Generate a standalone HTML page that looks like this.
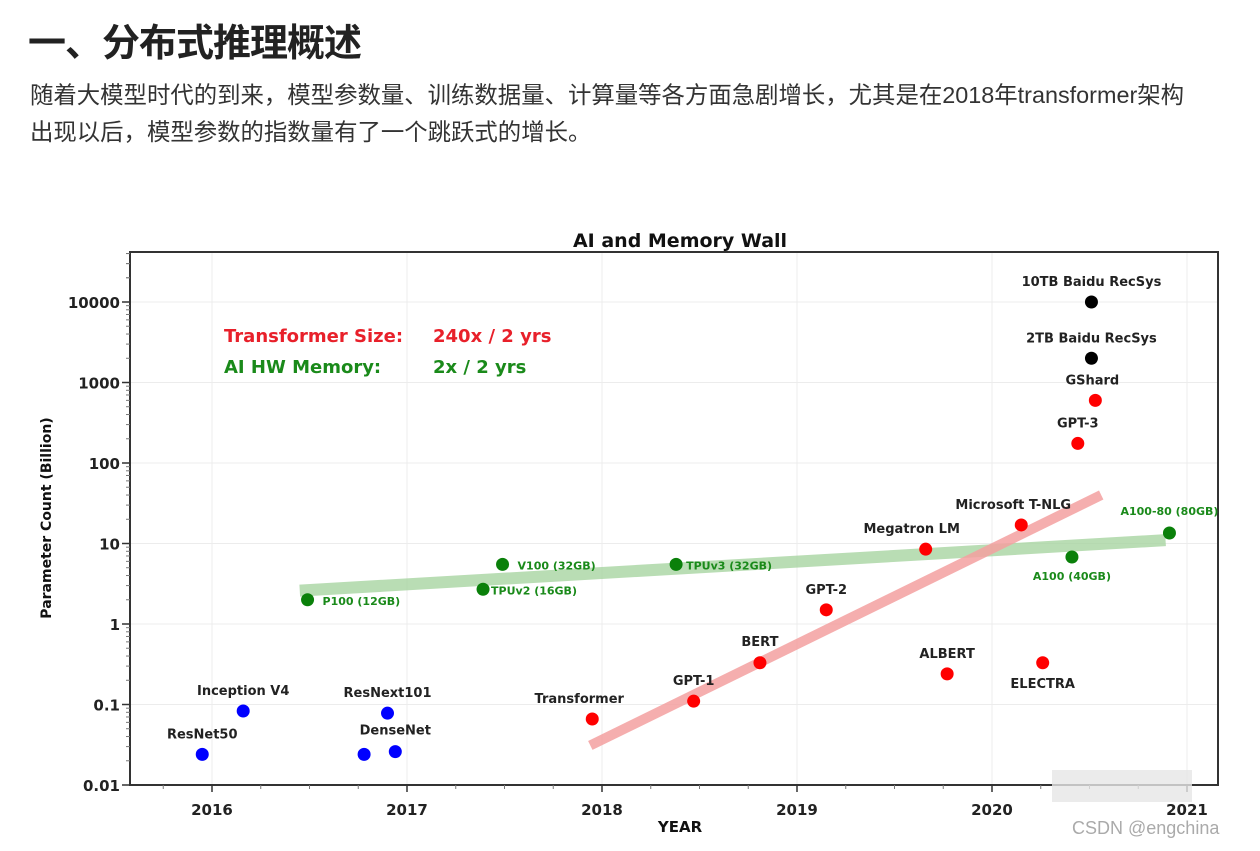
<!DOCTYPE html>
<html><head><meta charset="utf-8">
<style>
body{margin:0;background:#fff;width:1260px;height:851px;overflow:hidden;position:relative;font-family:"Liberation Sans","Noto Sans CJK SC",sans-serif;}
h1{position:absolute;left:28px;top:12px;margin:0;font-size:38px;font-weight:bold;color:#222;font-family:"Liberation Sans","Noto Sans CJK SC",sans-serif;letter-spacing:-1px}
p{position:absolute;left:30px;top:77px;margin:0;font-size:23.4px;line-height:37px;color:#333;width:1230px;white-space:nowrap}
svg{position:absolute;left:0;top:0}
.wm{position:absolute;left:1072px;top:818px;font-size:18px;color:#aaa}
</style></head><body>
<h1>一、分布式推理概述</h1>
<p>随着大模型时代的到来，模型参数量、训练数据量、计算量等各方面急剧增长，尤其是在2018年transformer架构<br>出现以后，模型参数的指数量有了一个跳跃式的增长。</p>
<svg id="chart" width="1260" height="851"></svg>
<div class="wm">CSDN @engchina</div>
<script>
const redNames=["Transformer","GPT-1","BERT","GPT-2","Megatron LM","Microsoft T-NLG","ALBERT","ELECTRA","GPT-3","GShard"];
const redYears=[2017.95,2018.47,2018.81,2019.15,2019.66,2020.15,2019.77,2020.26,2020.44,2020.53];
const redVals=[0.066,0.11,0.33,1.5,8.5,17,0.24,0.33,175,600];
const blueNames=["ResNet50","Inception V4","ResNext101","","DenseNet"];
const blueYears=[2015.95,2016.16,2016.9,2016.78,2016.94];
const blueVals=[0.024,0.083,0.078,0.024,0.026];
const blackNames=["10TB Baidu RecSys","2TB Baidu RecSys"];
const blackYears=[2020.51,2020.51];
const blackVals=[10000,2000];
const greenNames=["P100 (12GB)","TPUv2 (16GB)","V100 (32GB)","TPUv3 (32GB)","A100 (40GB)","A100-80 (80GB)"];
const greenYears=[2016.49,2017.39,2017.49,2018.38,2020.41,2020.91];
const greenVals=[2.0,2.7,5.5,5.5,6.8,13.5];
const redTrendYears=[2017.94,2020.56];
const redTrendVals=[0.031,40];
const greenTrendYears=[2016.45,2020.89];
const greenTrendVals=[2.6,11];
const xTicks=[2016,2017,2018,2019,2020,2021];
const yTicks=[0.01,0.1,1,10,100,1000,10000];
const yTickLabels=["0.01","0.1","1","10","100","1000","10000"];

const L=130,R=1218,T=252,B=785;
const xs=y=>212+(y-2016)*195;
const ys=v=>785-(Math.log10(v)+2)*80.5;
const svg=document.getElementById('chart');
const NS='http://www.w3.org/2000/svg';
function mk(tag,attrs,txt){const e=document.createElementNS(NS,tag);for(const k in attrs)e.setAttribute(k,attrs[k]);if(txt!==undefined)e.textContent=txt;svg.appendChild(e);return e;}
const F='"DejaVu Sans",sans-serif';

xTicks.forEach(t=>{const g=mk('line',{x1:xs(t),x2:xs(t),y1:T,y2:B,stroke:'#ececec','stroke-width':1});

});
yTicks.forEach(t=>{const g=mk('line',{x1:L,x2:R,y1:ys(t),y2:ys(t),stroke:'#ececec','stroke-width':1});

});
const fr=mk('rect',{x:L,y:T,width:R-L,height:B-T,fill:'none',stroke:'#333','stroke-width':2});


yTicks.forEach((t,i)=>{
 mk('line',{x1:L-8,x2:L,y1:ys(t),y2:ys(t),stroke:'#333','stroke-width':1.5});
 const lb=mk('text',{x:L-10,y:ys(t)+6,'text-anchor':'end','font-size':15,'font-weight':'bold','font-family':F,fill:'#222'},yTickLabels[i]);
 
 
 for(let m=2;m<10;m++){const v=t*m;if(ys(v)>T)mk('line',{x1:L-4,x2:L,y1:ys(v),y2:ys(v),stroke:'#777','stroke-width':1});}
});
for(let m=2;m<5;m++){mk('line',{x1:L-4,x2:L,y1:ys(10000*m),y2:ys(10000*m),stroke:'#777','stroke-width':1});}
xTicks.forEach(t=>{
 mk('line',{x1:xs(t),x2:xs(t),y1:B,y2:B+7,stroke:'#333','stroke-width':1.5});
 const lb=mk('text',{x:xs(t),y:B+30,'text-anchor':'middle','font-size':15,'font-weight':'bold','font-family':F,fill:'#222'},String(t));
 
 
});
for(let y=2015.75;y<2021.2;y+=0.25){if(Math.abs(y-Math.round(y))>0.01)mk('line',{x1:xs(y),x2:xs(y),y1:B,y2:B+4,stroke:'#777','stroke-width':1});}
let t=mk('text',{x:680,y:247,'text-anchor':'middle','font-size':19,'font-weight':'bold','font-family':F,fill:'#111'},'AI and Memory Wall');

t=mk('text',{x:680,y:832,'text-anchor':'middle','font-size':15,'font-weight':'bold','font-family':F,fill:'#111'},'YEAR');

t=mk('text',{x:0,y:0,'text-anchor':'middle','font-size':14,'font-weight':'bold','font-family':F,fill:'#111',transform:'translate(51,518) rotate(-90)'},'Parameter Count (Billion)');

t=mk('text',{x:224,y:342,'font-size':18,'font-weight':'bold','font-family':F,fill:'#e8202a'},'Transformer Size:');

t=mk('text',{x:433,y:342,'font-size':18,'font-weight':'bold','font-family':F,fill:'#e8202a'},'240x / 2 yrs');

t=mk('text',{x:224,y:373,'font-size':18,'font-weight':'bold','font-family':F,fill:'#1a8a1a'},'AI HW Memory:');

t=mk('text',{x:433,y:373,'font-size':18,'font-weight':'bold','font-family':F,fill:'#1a8a1a'},'2x / 2 yrs');

t=mk('line',{x1:xs(greenTrendYears[0]),y1:ys(greenTrendVals[0]),x2:xs(greenTrendYears[1]),y2:ys(greenTrendVals[1]),stroke:'#a8d5a2','stroke-width':12,opacity:0.8});

t=mk('line',{x1:xs(redTrendYears[0]),y1:ys(redTrendVals[0]),x2:xs(redTrendYears[1]),y2:ys(redTrendVals[1]),stroke:'#f4a0a0','stroke-width':10,opacity:0.85});

function pts(names,years,vals,color,offsets,fs,lc){
 names.forEach((n,i)=>{
  const cx=xs(years[i]),cy=ys(vals[i]);
  const c=mk('circle',{cx:cx,cy:cy,r:6.5,fill:color});
  
  
  if(n){const o=offsets[i];
   const l=mk('text',{x:cx+o[0],y:cy+o[1],'text-anchor':o[2]||'middle','font-size':fs,'font-weight':'bold','font-family':F,fill:lc});
   l.textContent=n;
   
   }
 });
}
pts(redNames,redYears,redVals,'#f00',[[-13,-16],[0,-16],[0,-17],[0,-16],[-14,-16],[-8,-16],[0,-16],[0,25],[0,-16],[-3,-16]],13,'#222');
pts(blueNames,blueYears,blueVals,'#00f',[[0,-16],[0,-16],[0,-16],[0,0],[0,-17]],13,'#222');
pts(blackNames,blackYears,blackVals,'#000',[[0,-16],[0,-16]],13,'#222');
pts(greenNames,greenYears,greenVals,'#0a800a',[[15,5,'start'],[8,5,'start'],[15,5,'start'],[10,5,'start'],[0,23],[0,-18]],11,'#1a8a1a');
t=mk('rect',{x:1052,y:770,width:140,height:32,fill:'#e6e6e6',opacity:0.8});

</script>
</body></html>
